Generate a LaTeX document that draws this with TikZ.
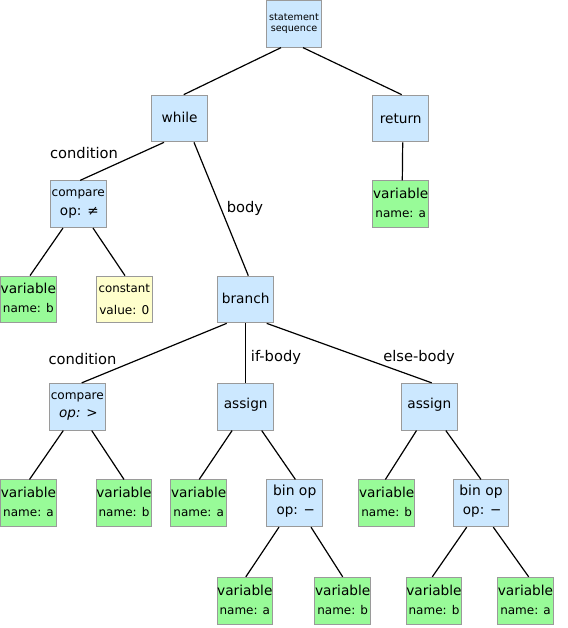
\documentclass[tikz,border=0pt]{standalone}
\usepackage{fontspec}
\setmainfont{DejaVu Sans}
\definecolor{boxblue}{HTML}{CCE8FF}
\definecolor{boxgreen}{HTML}{98FB98}
\definecolor{boxyellow}{HTML}{FFFFCC}
\definecolor{boxborder}{HTML}{9A9A9A}
\newcommand{\fsz}[2]{\fontsize{#1}{#2}\selectfont}
\newcommand{\dep}[1]{\rule[-#1pt]{0pt}{0pt}}
\newcommand{\varname}[1]{variable\\{\fsz{12}{19}name: #1\dep{2.6}}}
\tikzset{
  astbox/.style={draw=boxborder, line width=1pt, minimum width=55.6pt, minimum height=46.7pt,
    inner sep=0pt, align=center, font=\fsz{13.7}{19}},
  opbox/.style={astbox, fill=boxblue},
  varbox/.style={astbox, fill=boxgreen},
  constbox/.style={astbox, fill=boxyellow},
  edgelabel/.style={font=\fsz{14.7}{17}, inner sep=0pt},
  conn/.style={line width=1.2pt, black},
}
\begin{document}
\begin{tikzpicture}[x=1pt, y=-1pt]
\useasboundingbox (0,0) rectangle (567,628);
% nodes
\node[opbox, font=\fsz{9.65}{11}] (stmt) at (294,23.8) {statement\\sequence};
\node[opbox] (while) at (179.7,118.5) {while\dep{2.4}};
\node[opbox] (return) at (400.7,118.5) {return};
\node[varbox] (retvar) at (400.7,204.2) {\varname{a}};
\node[opbox, font=\fsz{12.1}{18.5}] (cmpne) at (78.2,204.2) {compare\\{\fsz{13.6}{18.5}\,op: ≠}};
\node[varbox] (varb1) at (28.3,299.5) {\varname{b}};
\node[constbox, font=\fsz{11.8}{21.7}] (const) at (124.3,299.5) {constant\\{\fsz{12.1}{21.7}value: 0}};
\node[opbox] (branch) at (245.7,299.5) {branch\dep{2.4}};
\node[opbox, font=\fsz{12.1}{18}] (cmpgt) at (77.3,406.7) {compare\\{\fsz{13.5}{18}\itshape\,op: >}};
\node[opbox] (asg1) at (245.7,406.7) {assign\dep{6.5}};
\node[opbox] (asg2) at (429.3,406.7) {assign\dep{6.5}};
\node[varbox] (va2) at (28.5,503.3) {\varname{a}};
\node[varbox] (vb2) at (124,503.3) {\varname{b}};
\node[varbox] (va3) at (198.7,503.3) {\varname{a}};
\node[opbox, font=\fsz{13.9}{19}] (bin1) at (294.7,503.3) {bin op\\{\fsz{13.5}{19}\,op: −\dep{7.6}}};
\node[varbox] (vb3) at (386.7,503.3) {\varname{b}};
\node[opbox, font=\fsz{13.9}{19}] (bin2) at (481,503.3) {bin op\\{\fsz{13.5}{19}\,op: −\dep{7.6}}};
\node[varbox] (va4) at (244.8,600.7) {\varname{a}};
\node[varbox] (vb4) at (342.7,600.7) {\varname{b}};
\node[varbox] (vb5) at (434,600.7) {\varname{b}};
\node[varbox] (va5) at (525.5,600.7) {\varname{a}};
% edge labels
\node[edgelabel] (lcond1) at (84,153.3) {condition};
\node[edgelabel] (lbody) at (245,208.3) {body};
\node[edgelabel] (lcond2) at (82.5,359) {condition};
\node[edgelabel] (lif) at (276,357.7) {if-body};
\node[edgelabel] (lelse) at (419,357.7) {else-body};
% connectors
\draw[conn] ([xshift=-13pt]stmt.south) -- ([xshift=4pt]while.north);
\draw[conn] ([xshift=9pt]stmt.south) -- ([xshift=1pt]return.north);
\draw[conn] ([xshift=-15.7pt]while.south) -- ([xshift=2pt]cmpne.north);
\draw[conn] ([xshift=14.3pt]while.south) -- ([xshift=2.6pt]branch.north);
\draw[conn] ([xshift=2pt]return.south) -- ([xshift=1.6pt]retvar.north);
\draw[conn] ([xshift=-15.2pt]cmpne.south) -- ([xshift=1.7pt]varb1.north);
\draw[conn] ([xshift=14.8pt]cmpne.south) -- ([xshift=0.7pt]const.north);
\draw[conn] ([xshift=-19pt]branch.south) -- ([xshift=4.4pt]cmpgt.north);
\draw[conn] (branch.south) -- (asg1.north);
\draw[conn] ([xshift=21pt]branch.south) -- ([xshift=2.4pt]asg2.north);
\draw[conn] ([xshift=-14pt]cmpgt.south) -- ([xshift=1pt]va2.north);
\draw[conn] ([xshift=14.4pt]cmpgt.south) -- (vb2.north);
\draw[conn] ([xshift=-13.6pt]asg1.south) -- ([xshift=0.5pt]va3.north);
\draw[conn] ([xshift=16pt]asg1.south) -- ([xshift=0.7pt]bin1.north);
\draw[conn] ([xshift=-12.8pt]asg2.south) -- ([xshift=-1.3pt]vb3.north);
\draw[conn] ([xshift=16.5pt]asg2.south) -- (bin2.north);
\draw[conn] ([xshift=-15.7pt]bin1.south) -- ([xshift=1pt]va4.north);
\draw[conn] ([xshift=16.3pt]bin1.south) -- (vb4.north);
\draw[conn] ([xshift=-14.3pt]bin2.south) -- ([xshift=-1.7pt]vb5.north);
\draw[conn] ([xshift=12.3pt]bin2.south) -- ([xshift=3.2pt]va5.north);
\end{tikzpicture}
\end{document}
